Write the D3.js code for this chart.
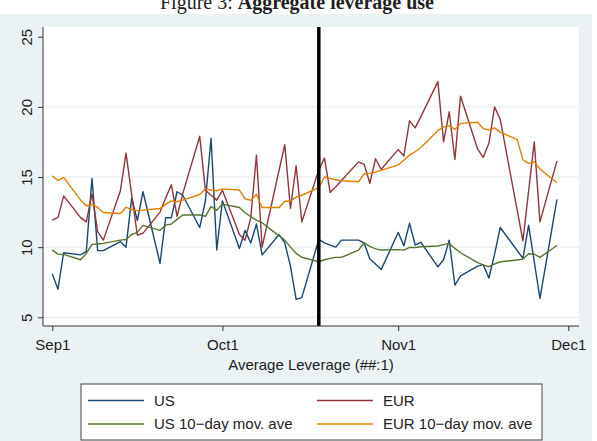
<!DOCTYPE html>
<html>
<head>
<meta charset="utf-8">
<script src="https://cdn.jsdelivr.net/npm/d3@7"></script>
<style>
  html, body { margin: 0; padding: 0; background: #fff; }
  svg { display: block; }
  text { font-family: "Liberation Sans", Arial, sans-serif; }
</style>
</head>
<body>
<div id="app"></div>
<script>
// trading days (weekdays), Sep 1 – Nov 29 2010
const dates = [
  "2010-09-01","2010-09-02","2010-09-03","2010-09-06","2010-09-07","2010-09-08","2010-09-09","2010-09-10",
  "2010-09-13","2010-09-14","2010-09-15","2010-09-16","2010-09-17","2010-09-20","2010-09-21","2010-09-22",
  "2010-09-23","2010-09-24","2010-09-27","2010-09-28","2010-09-29","2010-09-30",
  "2010-10-01","2010-10-04","2010-10-05","2010-10-06","2010-10-07","2010-10-08","2010-10-11","2010-10-12",
  "2010-10-13","2010-10-14","2010-10-15","2010-10-18","2010-10-19","2010-10-20","2010-10-21","2010-10-22",
  "2010-10-25","2010-10-26","2010-10-27","2010-10-28","2010-10-29",
  "2010-11-01","2010-11-02","2010-11-03","2010-11-04","2010-11-05","2010-11-08","2010-11-09","2010-11-10",
  "2010-11-11","2010-11-12","2010-11-15","2010-11-16","2010-11-17","2010-11-18","2010-11-19","2010-11-22",
  "2010-11-23","2010-11-24","2010-11-25","2010-11-26","2010-11-29"
];

const usValues = [
  8.1, 7.0, 9.6, 9.45, 9.7, 14.9, 9.75, 9.75, 10.4, 10.0, 13.5, 11.9, 13.95, 8.85, 12.1, 12.1, 13.95, 13.7, 11.4, 13.3, 17.75, 9.8,
  13.3, 9.9, 11.2, 10.3, 11.65, 9.45, 10.9, 10.3, 8.65, 6.28, 6.4, 10.55, 10.3, 10.15, 10.0, 10.5, 10.5, 10.3, 9.15, 8.8, 8.4,
  11.05, 10.1, 11.7, 10.15, 10.35, 8.6, 9.1, 10.5, 7.3, 7.95, 8.65, 8.75, 7.8, 9.5, 11.4, 9.75, 9.2, 11.57, 8.96, 6.35, 13.4
];

const eurValues = [
  11.93, 12.12, 13.65, 12.1, 11.8, 13.8, 11.1, 10.5, 14.0, 16.7, 13.75, 10.85, 11.0, 12.5, 13.5, 14.45, 12.2, 13.8, 17.9, 14.05, 13.7, 13.35,
  14.05, 10.9, 10.5, 12.1, 16.55, 10.0, 15.5, 17.3, 12.76, 15.8, 11.8, 15.5, 16.35, 13.9, 14.3, 14.75, 16.08, 15.9, 14.55, 16.3, 15.55,
  16.95, 16.5, 19.0, 18.5, 19.3, 21.8, 17.5, 19.65, 16.25, 20.76, 17.0, 16.4, 17.4, 20.0, 19.1, 12.6, 10.45, 14.0, 17.5, 11.8, 16.15
];

const usMovAve = [
  9.79, 9.5, 9.48, 9.1, 9.55, 10.2, 10.22, 10.27, 10.5, 10.55, 10.9, 11.05, 11.55, 11.2, 11.57, 11.65, 11.98, 12.29, 12.29, 12.2, 12.9, 12.62,
  13.07, 12.83, 12.45, 12.17, 11.93, 11.74, 10.8, 10.5, 10.0, 9.56, 9.28, 8.96, 9.1, 9.2, 9.27, 9.27, 9.79, 10.31, 10.05, 9.88, 9.8,
  9.82, 9.79, 9.98, 9.98, 10.03, 10.08, 10.18, 10.27, 9.91, 9.6, 8.89, 8.73, 8.61, 8.8, 8.96, 9.08, 9.15, 9.53, 9.5, 9.27, 10.12
];

const eurMovAve = [
  15.08, 14.75, 14.97, 13.35, 12.95, 13.05, 12.83, 12.47, 12.4, 12.85, 12.68, 12.6, 12.64, 12.75, 13.05, 13.3, 13.24, 13.35, 13.75, 14.15, 14.07, 14.02,
  14.15, 14.07, 13.45, 13.33, 13.75, 12.83, 12.83, 13.27, 13.27, 13.57, 13.7, 14.25, 15.0, 14.9, 14.8, 14.73, 14.66, 15.23, 15.28, 15.35, 15.47,
  15.86, 16.2, 16.56, 16.8, 17.1, 18.32, 18.57, 18.66, 18.39, 18.82, 18.9, 18.46, 18.34, 18.5, 18.2, 17.66, 16.22, 15.97, 16.08, 15.57, 14.59
];

const yTicks = [5, 10, 15, 20, 25];
const xTickDates = ["2010-09-01", "2010-10-01", "2010-11-01", "2010-12-01"];
const xDomain = ["2010-09-01", "2010-12-01"];
const eventDate = "2010-10-18";

const seriesNames = ["US", "EUR", "US 10\u2212day mov. ave", "EUR 10\u2212day mov. ave"];
const seriesColors = ["#1a476f", "#90353b", "#55752f", "#e37e00"];

const W = 597, H = 441;
const parse = d3.timeParse("%Y-%m-%d");

// plot region
const plot = { left: 43, top: 27, right: 579, bottom: 326 };

const svg = d3.select("#app").append("svg")
  .attr("width", W).attr("height", H)
  .attr("viewBox", [0, 0, W, H]);

// graph region background
svg.append("rect")
  .attr("x", 0).attr("y", 14).attr("width", 592).attr("height", H - 14)
  .attr("fill", "#eaf2f3");

// title (cut off at the top of the page)
const title = svg.append("text")
  .attr("x", 297).attr("y", 8.5)
  .attr("text-anchor", "middle")
  .style("font-family", "'Liberation Serif', 'DejaVu Serif', serif")
  .style("font-size", "20px")
  .attr("fill", "#222");
title.append("tspan").text("Figure 3:  ");
title.append("tspan").attr("font-weight", "bold").text("Aggregate leverage use");

svg.append("rect")
  .attr("x", plot.left).attr("y", plot.top)
  .attr("width", plot.right - plot.left).attr("height", plot.bottom - plot.top)
  .attr("fill", "#fff");

const x = d3.scaleTime()
  .domain(xDomain.map(parse))
  .range([52.3, 568.3]);

const y = d3.scaleLinear()
  .domain([5, 25])
  .range([317.3, 36.7]);

// grid
svg.append("g")
  .selectAll("line")
  .data(yTicks.filter(d => d < 25))
  .join("line")
  .attr("x1", plot.left).attr("x2", plot.right)
  .attr("y1", d => y(d)).attr("y2", d => y(d))
  .attr("stroke", "#e4ebed")
  .attr("stroke-width", 1);

// series
const seriesData = [usValues, eurValues, usMovAve, eurMovAve].map(vals =>
  vals.map((v, i) => ({ date: parse(dates[i]), v }))
);

const line = d3.line()
  .x(d => x(d.date))
  .y(d => y(d.v));

svg.append("g")
  .selectAll("path")
  .data(seriesData)
  .join("path")
  .attr("d", line)
  .attr("fill", "none")
  .attr("stroke", (d, i) => seriesColors[i])
  .attr("stroke-width", 1.4)
  .attr("stroke-linejoin", "round");

// event line
svg.append("line")
  .attr("x1", x(parse(eventDate))).attr("x2", x(parse(eventDate)))
  .attr("y1", plot.top).attr("y2", plot.bottom)
  .attr("stroke", "#000")
  .attr("stroke-width", 3.5);

// y axis
const yAxis = svg.append("g")
  .attr("transform", `translate(${plot.left},0)`)
  .call(d3.axisLeft(y).tickValues(yTicks).tickSize(5).tickSizeOuter(0));
yAxis.select(".domain").remove();
yAxis.selectAll(".tick line").attr("stroke", "#333");
yAxis.selectAll(".tick text")
  .attr("transform", "rotate(-90)")
  .attr("x", 0).attr("y", -11).attr("dy", 0)
  .attr("text-anchor", "middle")
  .attr("fill", "#222")
  .style("font-size", "15px");
yAxis.append("line")
  .attr("x1", 0).attr("x2", 0)
  .attr("y1", plot.top).attr("y2", plot.bottom)
  .attr("stroke", "#333");

// x axis
const xAxis = svg.append("g")
  .attr("transform", `translate(0,${plot.bottom})`)
  .call(d3.axisBottom(x)
    .tickValues(xTickDates.map(parse))
    .tickFormat(d3.timeFormat("%b%-d"))
    .tickSize(5).tickSizeOuter(0));
xAxis.select(".domain").remove();
xAxis.selectAll(".tick line").attr("stroke", "#333");
xAxis.selectAll(".tick text")
  .attr("y", 24).attr("dy", 0)
  .attr("fill", "#222")
  .style("font-size", "15px");
xAxis.append("line")
  .attr("x1", plot.left).attr("x2", plot.right)
  .attr("y1", 0).attr("y2", 0)
  .attr("stroke", "#333");

svg.append("text")
  .attr("x", (plot.left + plot.right) / 2)
  .attr("y", 369.5)
  .attr("text-anchor", "middle")
  .attr("fill", "#222")
  .style("font-size", "15px")
  .text("Average Leverage (##:1)");

// legend
const legend = svg.append("g");
legend.append("rect")
  .attr("x", 81).attr("y", 384).attr("width", 461).attr("height", 56)
  .attr("fill", "#fff")
  .attr("stroke", "#444")
  .attr("stroke-width", 1);

const legendItems = legend.selectAll("g")
  .data(seriesNames)
  .join("g")
  .attr("transform", (d, i) => `translate(${i % 2 === 0 ? 88 : 317},${i < 2 ? 400.5 : 424})`);

legendItems.append("line")
  .attr("x1", 0).attr("x2", 56)
  .attr("y1", 0).attr("y2", 0)
  .attr("stroke", (d, i) => seriesColors[i])
  .attr("stroke-width", 1.4);

legendItems.append("text")
  .attr("x", 66).attr("y", 5.4)
  .attr("fill", "#222")
  .style("font-size", "15px")
  .text(d => d);
</script>
</body>
</html>
